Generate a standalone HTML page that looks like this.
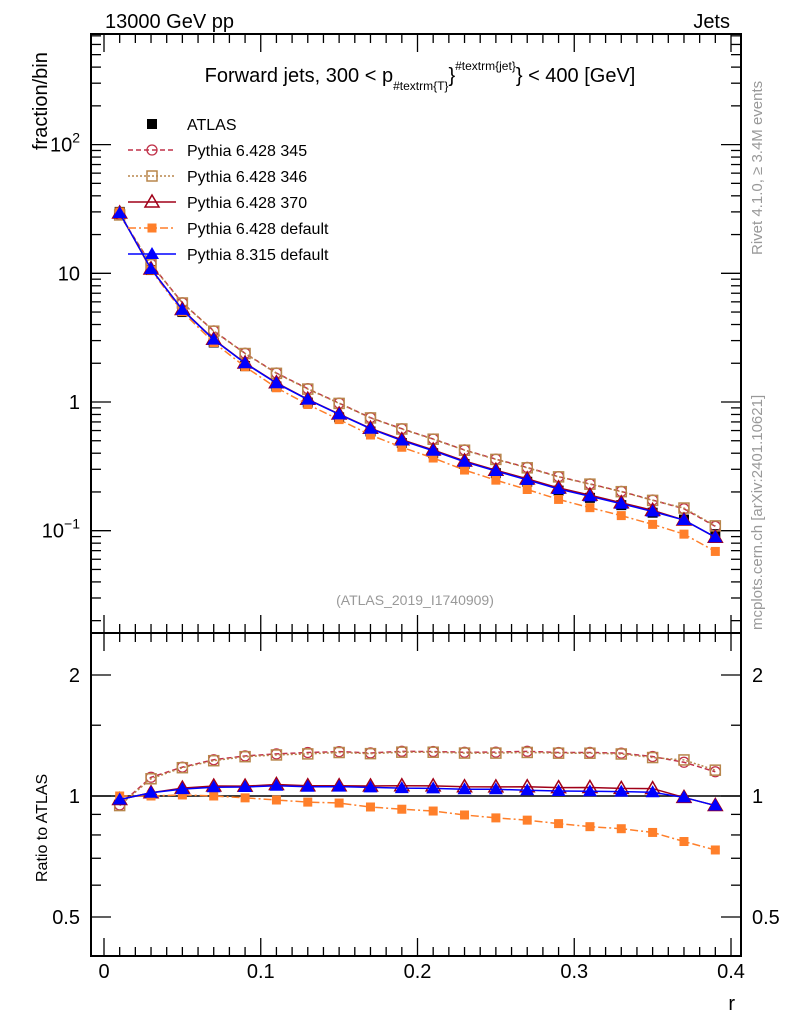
<!DOCTYPE html>
<html><head><meta charset="utf-8"><style>
body{margin:0;background:#fff;}
svg{display:block;font-family:"Liberation Sans",sans-serif;}
</style></head><body>
<svg id="c" width="786" height="1024" viewBox="0 0 786 1024" xmlns="http://www.w3.org/2000/svg">
<text x="105" y="28" font-size="20">13000 GeV pp</text>
<text x="730" y="28" font-size="20" text-anchor="end">Jets</text>
<text x="420" y="82" font-size="20" text-anchor="middle">Forward jets, 300 &lt; p<tspan font-size="12" dy="8">#textrm{T}</tspan><tspan dy="-8">}</tspan><tspan font-size="12" dy="-12">#textrm{jet}</tspan><tspan dy="12">} &lt; 400 [GeV]</tspan></text>
<text transform="translate(47,150) rotate(-90)" font-size="20">fraction/bin</text>
<text transform="translate(47,882) rotate(-90)" font-size="16">Ratio to ATLAS</text>
<text x="735" y="1010" font-size="20" text-anchor="end">r</text>
<text transform="translate(762,255) rotate(-90)" font-size="15" fill="#999">Rivet 4.1.0, ≥ 3.4M events</text>
<text transform="translate(762,630) rotate(-90)" font-size="15" fill="#999">mcplots.cern.ch [arXiv:2401.10621]</text>
<text x="415" y="605" font-size="14" fill="#999" text-anchor="middle">(ATLAS_2019_I1740909)</text>
<g id="main"></g><g id="ratio"></g><g id="legend"></g>
<rect x="91" y="34" width="650" height="599" fill="none" stroke="#000" stroke-width="2"/>
<rect x="91" y="633" width="650" height="323" fill="none" stroke="#000" stroke-width="2"/>
</svg>
<script>
const rvals=[0.01,0.03,0.05,0.07,0.09,0.11,0.13,0.15,0.17,0.19,0.21,0.23,0.25,0.27,0.29,0.31,0.33,0.35,0.37,0.39];
const atlas=[30,10.6,5.0,2.9,1.9,1.32,0.99,0.76,0.59,0.48,0.40,0.33,0.28,0.24,0.205,0.18,0.158,0.138,0.122,0.094];
const p345=[28.5,11.8,5.9,3.57,2.39,1.68,1.27,0.98,0.755,0.62,0.516,0.424,0.36,0.31,0.263,0.231,0.202,0.173,0.148,0.108];
const p346=[28.4,11.7,5.88,3.55,2.38,1.67,1.26,0.975,0.752,0.617,0.514,0.422,0.358,0.308,0.262,0.23,0.201,0.172,0.150,0.109];
const p370=[29.4,10.8,5.23,3.07,2.01,1.41,1.05,0.806,0.625,0.509,0.424,0.348,0.295,0.253,0.215,0.189,0.165,0.144,0.121,0.089];
const pdef=[30,10.6,5.03,2.9,1.88,1.29,0.956,0.73,0.554,0.445,0.367,0.296,0.247,0.209,0.175,0.151,0.131,0.112,0.094,0.069];
const p8=[29.4,10.8,5.2,3.05,2.0,1.40,1.044,0.802,0.62,0.502,0.418,0.343,0.291,0.248,0.211,0.185,0.162,0.141,0.121,0.089];
const xTicks=[0,0.1,0.2,0.3,0.4];
const yMajor=[0.1,1,10,100];
const yBase=["10","1","10","10"];
const yExp=["−1","","","2"];
const rTicks=[0.5,1,2];
const rLabels=["0.5","1","2"];

const NS="http://www.w3.org/2000/svg";
const X=v=>104+v*1567.5;
const Y=v=>402-128.7*Math.log10(v);
const R=v=>796-121*Math.log2(v);
function mk(tag,attrs,parent){const e=document.createElementNS(NS,tag);for(const k in attrs)e.setAttribute(k,attrs[k]);parent.appendChild(e);return e;}
const main=document.getElementById('main'),ratio=document.getElementById('ratio'),leg=document.getElementById('legend');

for(let i=0;i<=40;i++){const v=i*0.01;const x=X(v);if(x>741)continue;const L=(i%10==0)?18:9;
 for(const [yb,yt] of [[633,34],[956,633]]){mk('line',{x1:x,x2:x,y1:yb,y2:yb-L,stroke:'#000','stroke-width':1.3},main);mk('line',{x1:x,x2:x,y1:yt,y2:yt+L,stroke:'#000','stroke-width':1.3},main);}}
xTicks.forEach(v=>{const t=mk('text',{x:X(v),y:978,'font-size':20,'text-anchor':'middle'},main);t.textContent=String(v);

});
for(let d=-2;d<=2;d++){for(let m=1;m<=9;m++){const v=m*Math.pow(10,d);const y=Y(v);if(y<34||y>633)continue;const L=m==1?20:10;
 mk('line',{x1:91,x2:91+L,y1:y,y2:y,stroke:'#000','stroke-width':1.3},main);mk('line',{x1:741,x2:741-L,y1:y,y2:y,stroke:'#000','stroke-width':1.3},main);}}
yMajor.forEach((v,i)=>{const t=mk('text',{x:80,y:Y(v)+7,'font-size':20,'text-anchor':'end'},main);
 
 
 const a=mk('tspan',{},t);a.textContent=yBase[i];
 if(yExp[i]){const b=mk('tspan',{'font-size':14,dy:-9},t);b.textContent=yExp[i];}});
[0.5,0.6,0.7,0.8,0.9,1,1.5,2].forEach(v=>{const y=R(v);const L=(v==0.5||v==1||v==2)?20:10;
 mk('line',{x1:91,x2:91+L,y1:y,y2:y,stroke:'#000','stroke-width':1.3},ratio);mk('line',{x1:741,x2:741-L,y1:y,y2:y,stroke:'#000','stroke-width':1.3},ratio);});
rTicks.forEach((v,i)=>{for(const [x,a] of [[80,'end'],[752,'start']]){const t=mk('text',{x:x,y:R(v)+7,'font-size':20,'text-anchor':a},ratio);t.textContent=rLabels[i];

}});
mk('line',{x1:91,x2:741,y1:R(1),y2:R(1),stroke:'#000','stroke-width':1.5},ratio);

function marker(g,type,x,y,col){
 if(type=='sq')return mk('rect',{x:x-5,y:y-5,width:10,height:10,fill:'#000'},g);
 if(type=='circ')return mk('circle',{cx:x,cy:y,r:5,fill:'none',stroke:col,'stroke-width':1.3},g);
 if(type=='osq')return mk('rect',{x:x-5,y:y-5,width:10,height:10,fill:'none',stroke:col,'stroke-width':1.5},g);
 if(type=='otri')return mk('path',{d:`M${x},${y-7}L${x+7},${y+5}L${x-7},${y+5}Z`,fill:'none',stroke:col,'stroke-width':1.5},g);
 if(type=='fsq')return mk('rect',{x:x-4.5,y:y-4.5,width:9,height:9,fill:col},g);
 if(type=='tri')return mk('path',{d:`M${x},${y-7}L${x+7},${y+5}L${x-7},${y+5}Z`,fill:col},g);
}
const series=[
 {name:'Pythia 6.428 345',d:p345,col:'#c03048',dash:'5,3',m:'circ',id:'p345'},
 {name:'Pythia 6.428 346',d:p346,col:'#b8864b',dash:'2,2',m:'osq',id:'p346'},
 {name:'Pythia 6.428 370',d:p370,col:'#a00018',dash:'',m:'otri',id:'p370'},
 {name:'Pythia 6.428 default',d:pdef,col:'#ff7f2a',dash:'8,3,2,3',m:'fsq',id:'pdef'},
 {name:'Pythia 8.315 default',d:p8,col:'#0000ff',dash:'',m:'tri',id:'p8'}];

const ga=mk('g',{},main);


rvals.forEach((r,i)=>marker(ga,'sq',X(r),Y(atlas[i])));
series.forEach(s=>{
 const g=mk('g',{},main);
 
 
 mk('polyline',{points:rvals.map((r,i)=>X(r)+','+Y(s.d[i])).join(' '),fill:'none',stroke:s.col,'stroke-width':1.5,'stroke-dasharray':s.dash},g);
 rvals.forEach((r,i)=>marker(g,s.m,X(r),Y(s.d[i]),s.col));
 const gr=mk('g',{},ratio);
 
 
 mk('polyline',{points:rvals.map((r,i)=>X(r)+','+R(s.d[i]/atlas[i])).join(' '),fill:'none',stroke:s.col,'stroke-width':1.5,'stroke-dasharray':s.dash},gr);
 rvals.forEach((r,i)=>marker(gr,s.m,X(r),R(s.d[i]/atlas[i]),s.col));
});
const entries=[{name:'ATLAS',m:'sq',col:'#000',dash:null}].concat(series);
entries.forEach((e,i)=>{const y=124+i*26;const g=mk('g',{},leg);
 
 
 if(e.dash!==null&&e.dash!==undefined)mk('line',{x1:128,x2:176,y1:y,y2:y,stroke:e.col,'stroke-width':1.5,'stroke-dasharray':e.dash},g);
 marker(g,e.m,152,y,e.col);
 const t=mk('text',{x:187,y:y+6,'font-size':16},g);t.textContent=e.name;});
</script>
</body></html>
